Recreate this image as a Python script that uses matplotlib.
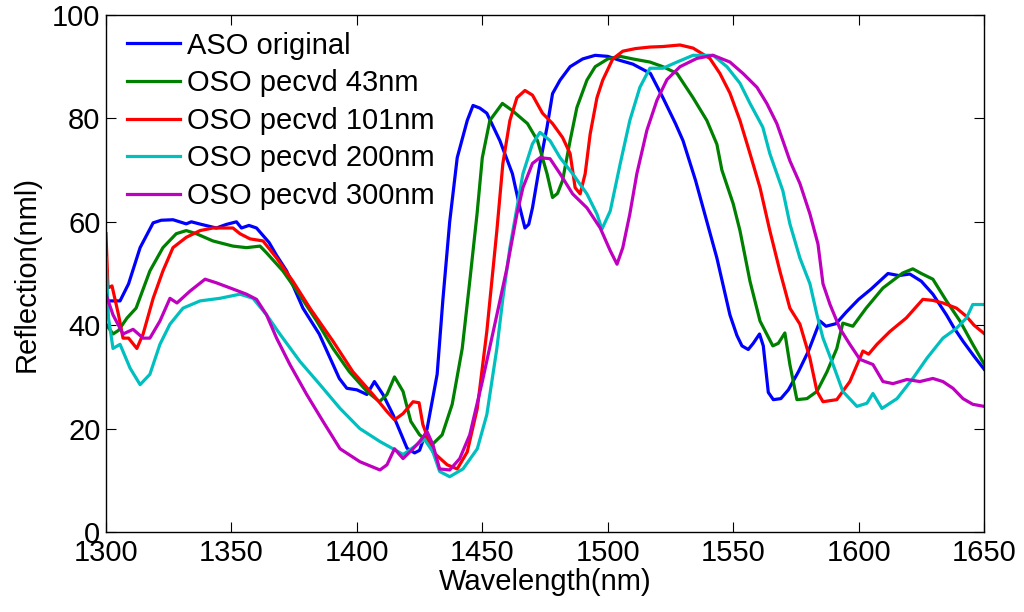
import matplotlib
matplotlib.use("Agg")
import matplotlib.pyplot as plt

plt.rcParams['font.family'] = ['Liberation Sans', 'DejaVu Sans']

labels = ["ASO original", "OSO pecvd 43nm", "OSO pecvd 101nm", "OSO pecvd 200nm", "OSO pecvd 300nm"]
colors = ["#0000ff", "#008000", "#ff0000", "#00bfbf", "#bf00bf"]

aso_x = [1300, 1305.6, 1309, 1313.6, 1318.8, 1322, 1326.7, 1332, 1334, 1338, 1344, 1348, 1352, 1354, 1357, 1360, 1365, 1368, 1372, 1378.5, 1385, 1389, 1393, 1396, 1400, 1404, 1407, 1410.4, 1414.4, 1420, 1423, 1425, 1428, 1432, 1434.3, 1437, 1440, 1444, 1446.3, 1449, 1451.8, 1457, 1462, 1465, 1467, 1468.5, 1470, 1473, 1475.8, 1478, 1481, 1485, 1490, 1495, 1500, 1505, 1510, 1517, 1522, 1527, 1530, 1535, 1538, 1543.5, 1548.7, 1551.5, 1553.5, 1556, 1558, 1560.5, 1562, 1564, 1566, 1569, 1572, 1576, 1580, 1584.6, 1587, 1591, 1595, 1600, 1605, 1611.7, 1616, 1620.4, 1625, 1629.6, 1635, 1638, 1641.6, 1646, 1650]
aso_y = [44.7, 44.7, 48, 55, 59.8, 60.3, 60.4, 59.6, 60, 59.5, 58.8, 59.5, 60, 58.8, 59.3, 58.8, 56, 53.5, 50.5, 43.3, 38.3, 34, 29.7, 27.8, 27.5, 26.6, 29.1, 26.6, 22.7, 16.2, 15.3, 15.8, 20, 30.5, 45, 60, 72.4, 79.6, 82.5, 82, 81, 75.7, 69.3, 62.7, 58.8, 59.5, 62.7, 71.3, 78.3, 84.8, 87.4, 90, 91.5, 92.2, 92, 91.2, 90.5, 88.7, 84, 79, 75.7, 68, 62.7, 53, 42, 38, 36, 35.3, 36.5, 38.3, 36, 27, 25.6, 25.8, 27.5, 31, 35, 40.8, 39.8, 40.3, 42.5, 45, 47, 50, 49.6, 49.9, 48.5, 46, 42, 39.5, 36.9, 34, 31.5]

p43_x = [1300, 1302.8, 1305, 1308.4, 1312, 1317.5, 1322.7, 1328, 1332, 1336, 1342.6, 1350.6, 1356, 1361.4, 1364, 1370.5, 1377, 1384, 1390.5, 1397, 1404, 1409, 1412, 1415, 1418.4, 1421.5, 1425, 1430, 1434, 1438, 1442, 1445, 1447.9, 1450, 1453, 1458, 1462, 1468, 1472, 1475.8, 1478, 1480, 1482, 1485, 1487.7, 1491.7, 1495, 1500, 1505, 1510, 1516.8, 1522, 1527.6, 1534, 1539.5, 1543.5, 1545.5, 1550, 1552.7, 1556.7, 1560.7, 1565.8, 1568, 1570.6, 1572.6, 1575.4, 1579.4, 1583.4, 1587.4, 1591.3, 1593.7, 1597.7, 1603, 1609.7, 1617.6, 1621.6, 1625, 1629.6, 1635, 1640.4, 1645.5, 1650]
p43_y = [40.2, 38.3, 39, 41.4, 43.3, 50.5, 55, 57.7, 58.3, 57.7, 56.3, 55.3, 55, 55.3, 54, 50.5, 46, 40.8, 35.5, 31, 27.2, 25.2, 26.6, 30, 27.2, 21.4, 18.8, 16.9, 18.8, 24.7, 35.5, 48.5, 61.5, 72.4, 79.6, 82.9, 81.5, 79, 75.7, 69.3, 64.7, 65.5, 68, 75.7, 82.1, 87.4, 90, 91.5, 92, 91.5, 90.9, 90, 88.7, 84, 79.6, 75, 70, 63.5, 58.3, 48.5, 40.8, 36, 36.5, 38.5, 32.4, 25.6, 25.8, 27.2, 31, 35.5, 40.4, 39.8, 43.3, 47.2, 50.1, 50.9, 50, 48.9, 44.7, 40.8, 36.3, 32.5]

p101_x = [1300, 1300.8, 1302.4, 1305, 1306.8, 1309, 1312.3, 1314.8, 1318.8, 1322.7, 1326.7, 1332, 1337.5, 1342.6, 1350.6, 1353.4, 1357.4, 1362.6, 1368, 1374.5, 1381.3, 1390.5, 1398.4, 1406.4, 1412, 1415, 1418.4, 1422.4, 1424.8, 1426.3, 1430.3, 1436, 1440, 1444, 1448, 1451.8, 1455.8, 1458.2, 1461, 1463.8, 1467, 1470, 1474, 1478, 1482, 1485, 1487, 1489, 1491, 1493, 1495.7, 1498, 1502, 1506, 1511, 1516.8, 1522, 1528.8, 1534, 1540.7, 1544.7, 1548.7, 1552.7, 1556.7, 1560.7, 1564.6, 1568.6, 1572.6, 1576.6, 1580.6, 1583.4, 1585.8, 1588.5, 1591.3, 1596.5, 1601.7, 1604, 1607.3, 1612.5, 1619, 1625.6, 1629.6, 1633.6, 1639, 1643, 1646, 1650]
p101_y = [57.7, 47.2, 47.6, 42, 37.5, 37.5, 35.5, 38.3, 45.2, 50.5, 55, 57, 58.3, 58.8, 58.8, 57.7, 56.7, 56.3, 53, 48.5, 43.3, 36.9, 31, 26.6, 23.3, 21.7, 22.9, 25.2, 25, 20.8, 15.5, 13, 12.2, 15.5, 23.9, 38.8, 58.3, 71.3, 79.6, 84, 85.4, 84.5, 81, 79, 76.3, 73.2, 66.6, 65.4, 69.3, 77, 84, 87.4, 91.5, 93, 93.5, 93.8, 93.9, 94.2, 93.6, 91.6, 88.7, 84.9, 79.6, 73.2, 66.6, 58.3, 50.5, 43.3, 40.2, 33.6, 27.2, 25.2, 25.4, 25.6, 29.1, 35, 34.4, 36.3, 38.8, 41.4, 45, 44.8, 44.3, 43.3, 41.7, 40, 38.4]

p200_x = [1300, 1301, 1302.8, 1305.6, 1309.6, 1313.6, 1317.5, 1321.5, 1325.5, 1330.7, 1337.5, 1345.4, 1353.4, 1358.6, 1364, 1369.3, 1377.3, 1385.3, 1393.3, 1401.2, 1409.2, 1414.4, 1418.4, 1420, 1424, 1427, 1430.3, 1433, 1437, 1442.3, 1448, 1451.8, 1455.8, 1458.2, 1461, 1463.8, 1466.2, 1470, 1473, 1477, 1481, 1486, 1491.7, 1495.7, 1497.7, 1501, 1505, 1508.8, 1512.8, 1516.8, 1522, 1527.6, 1534, 1542, 1547.5, 1552.7, 1556.7, 1561.8, 1564.6, 1569.8, 1572.6, 1576.6, 1580.6, 1583.4, 1585.8, 1589.8, 1593.7, 1599.3, 1603.3, 1605.7, 1609.3, 1615.3, 1621.6, 1627.2, 1633.6, 1639, 1643, 1645.5, 1650]
p200_y = [53, 41.4, 35.5, 36.3, 31.7, 28.5, 30.5, 36.3, 40.2, 43.3, 44.7, 45.2, 46, 45.2, 42, 38.3, 33, 28.5, 23.9, 20, 17.5, 16.1, 15, 15.5, 16.9, 17.9, 15.5, 11.7, 10.7, 12.2, 16.1, 22.7, 35.5, 45.2, 55, 62.7, 69.3, 75.1, 77.3, 75.7, 72.4, 69.3, 65.4, 61.5, 58.6, 62.1, 71.3, 79.6, 86, 89.7, 89.7, 90.9, 92.2, 92.2, 90, 86.8, 82.9, 78.3, 73.2, 66, 59.6, 53, 48, 42, 37.5, 32.4, 27.2, 24.3, 24.9, 26.8, 23.9, 25.8, 29.7, 33.6, 37.5, 39.4, 41.4, 44, 44]

p300_x = [1300, 1302.8, 1306.8, 1310.8, 1314.8, 1317.5, 1321.5, 1325.5, 1328.3, 1333.5, 1339.5, 1344, 1350.6, 1356, 1360, 1364, 1368, 1373.3, 1380, 1386.5, 1393.3, 1401.2, 1409.2, 1412, 1415, 1418.4, 1422.4, 1425, 1428, 1430.3, 1433, 1437, 1441, 1445, 1450, 1455.8, 1459.8, 1463.8, 1466.2, 1470, 1473, 1477, 1481, 1486, 1491.7, 1497, 1501, 1503.7, 1506, 1508.8, 1511.6, 1515.6, 1519.6, 1523.6, 1528.8, 1535.5, 1542, 1548.7, 1553.9, 1559.5, 1563.4, 1567.4, 1569.8, 1572.6, 1576.6, 1580.6, 1583.8, 1585.8, 1588.6, 1592.5, 1596.5, 1600.5, 1605.7, 1609.7, 1613.7, 1619.3, 1624.4, 1629.6, 1633.6, 1637.6, 1641.6, 1645.5, 1650]
p300_y = [46, 42, 38.3, 39.2, 37.5, 37.5, 40.8, 45.2, 44.3, 46.6, 48.9, 48.2, 47, 46, 45, 42, 37.5, 32.4, 26.6, 21.4, 16.1, 13.6, 12, 13, 16.1, 14.2, 16.1, 17.5, 19.4, 16.9, 12.2, 12, 14.2, 18.8, 29.1, 42, 51, 61.5, 66.6, 71.3, 72.4, 72.2, 69.3, 65.4, 62.7, 58.8, 54.4, 51.8, 55, 61.5, 69.3, 77.7, 83.5, 87.5, 90, 91.6, 92.2, 90.9, 88.7, 86, 82.9, 79, 75.7, 71.8, 67.4, 61.5, 55.7, 48, 44, 39.4, 36.3, 33.4, 32.4, 29.1, 28.7, 29.5, 29.1, 29.7, 29.1, 27.8, 25.8, 24.7, 24.3]

xs = [aso_x, p43_x, p101_x, p200_x, p300_x]
ys = [aso_y, p43_y, p101_y, p200_y, p300_y]

xticks = [1300, 1350, 1400, 1450, 1500, 1550, 1600, 1650]
yticks = [0, 20, 40, 60, 80, 100]

fig = plt.figure(figsize=(10.24, 6.12), dpi=100)
ax = fig.add_axes([0.1035, 0.1307, 0.8575, 0.8448])
for x, y, c, l in zip(xs, ys, colors, labels):
    ax.plot(x, y, color=c, lw=2.3, label=l)

ax.set_xlim(1300, 1650)
ax.set_ylim(0, 100)
ax.set_xticks(xticks)
ax.set_yticks(yticks)
ax.tick_params(direction='in', top=True, right=True, labelsize=21, length=7, width=0.8)
ax.tick_params(axis='x', pad=5)
ax.tick_params(axis='y', pad=4)
ax.set_xlabel("Wavelength(nm)", fontsize=21, labelpad=1)
ax.set_ylabel("Reflection(nml)", fontsize=21, labelpad=8)
for s in ax.spines.values():
    s.set_linewidth(1.0)

ax.legend(loc='upper left', bbox_to_anchor=(0.024, 0.968), frameon=False,
          fontsize=21, handlelength=1.82, handletextpad=0.24, labelspacing=0.33,
          borderpad=0, borderaxespad=0)

fig.savefig("out.png", dpi=100)
